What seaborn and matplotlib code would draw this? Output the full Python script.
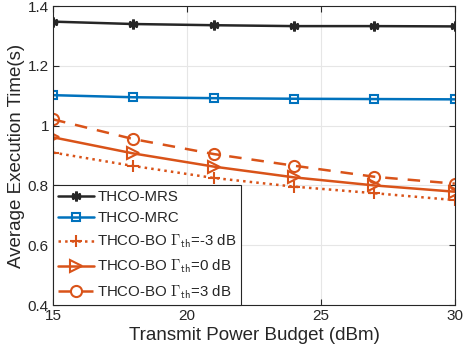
import matplotlib
matplotlib.use("Agg")
import matplotlib.pyplot as plt
import seaborn as sns
import pandas as pd

# 数据
power_dbm = [15, 18, 21, 24, 27, 30]
time_mrs = [1.348, 1.340, 1.336, 1.333, 1.333, 1.332]
time_mrc = [1.102, 1.095, 1.092, 1.090, 1.089, 1.088]
time_bo_m3 = [0.910, 0.865, 0.825, 0.796, 0.774, 0.751]
time_bo_0 = [0.961, 0.907, 0.863, 0.827, 0.800, 0.779]
time_bo_3 = [1.021, 0.955, 0.905, 0.866, 0.829, 0.806]

labels = ['THCO-MRS', 'THCO-MRC',
          r'THCO-BO $\Gamma_{\mathsf{th}}$=-3 dB',
          r'THCO-BO $\Gamma_{\mathsf{th}}$=0 dB',
          r'THCO-BO $\Gamma_{\mathsf{th}}$=3 dB']

sns.set_style("whitegrid")
plt.rcParams['font.family'] = ['Liberation Sans', 'DejaVu Sans']
plt.rcParams['mathtext.fontset'] = 'cm'

fig = plt.figure(figsize=(4.66, 3.58), dpi=100)
ax = fig.add_axes([0.114, 0.148, 0.862, 0.835])

black = '#262626'
blue = '#0072BD'
orange = '#D95319'

series = [time_mrs, time_mrc, time_bo_m3, time_bo_0, time_bo_3]
styles = [
    dict(color=black, linestyle='-', marker=(6, 2, 0), markersize=7, markeredgewidth=2),
    dict(color=blue, linestyle='-', marker='s', markersize=6, markerfacecolor='none', markeredgewidth=1.5),
    dict(color=orange, linestyle=':', marker='+', markersize=9, markeredgewidth=1.5),
    dict(color=orange, linestyle='-', marker='>', markersize=8, markerfacecolor='none', markeredgewidth=1.5),
    dict(color=orange, linestyle=(0, (5, 4)), marker='o', markersize=8, markerfacecolor='none', markeredgewidth=1.5),
]

for vals, lab, st in zip(series, labels, styles):
    df = pd.DataFrame({'x': power_dbm, 'y': vals})
    sns.lineplot(data=df, x='x', y='y', ax=ax, label=lab, linewidth=1.8,
                 markeredgecolor=st['color'], **st)

ax.set_xlim(15, 30)
ax.set_ylim(0.4, 1.4)
ax.set_xticks([15, 20, 25, 30])
ax.set_yticks([0.4, 0.6, 0.8, 1.0, 1.2, 1.4])
ax.set_yticklabels(['0.4', '0.6', '0.8', '1', '1.2', '1.4'])
ax.set_xlabel('Transmit Power Budget (dBm)', fontsize=13.5, color='#262626', labelpad=3)
ax.set_ylabel('Average Execution Time(s)', fontsize=13.5, color='#262626', labelpad=2)
ax.tick_params(direction='in', length=4, labelsize=11, colors='#262626', pad=3,
               top=True, right=True, bottom=True, left=True)
ax.grid(True, color='#e6e6e6', linewidth=0.8)
for s in ax.spines.values():
    s.set_color('#262626')
    s.set_linewidth(0.8)

leg = ax.legend(loc='lower left', fontsize=10.8, frameon=True, fancybox=False,
                borderaxespad=0, handlelength=2.4, labelspacing=0.5,
                borderpad=0.3, handletextpad=0.25)
leg.get_frame().set_edgecolor('#262626')
leg.get_frame().set_linewidth(0.8)
leg.get_frame().set_alpha(1)

plt.savefig('out.png', dpi=100)
